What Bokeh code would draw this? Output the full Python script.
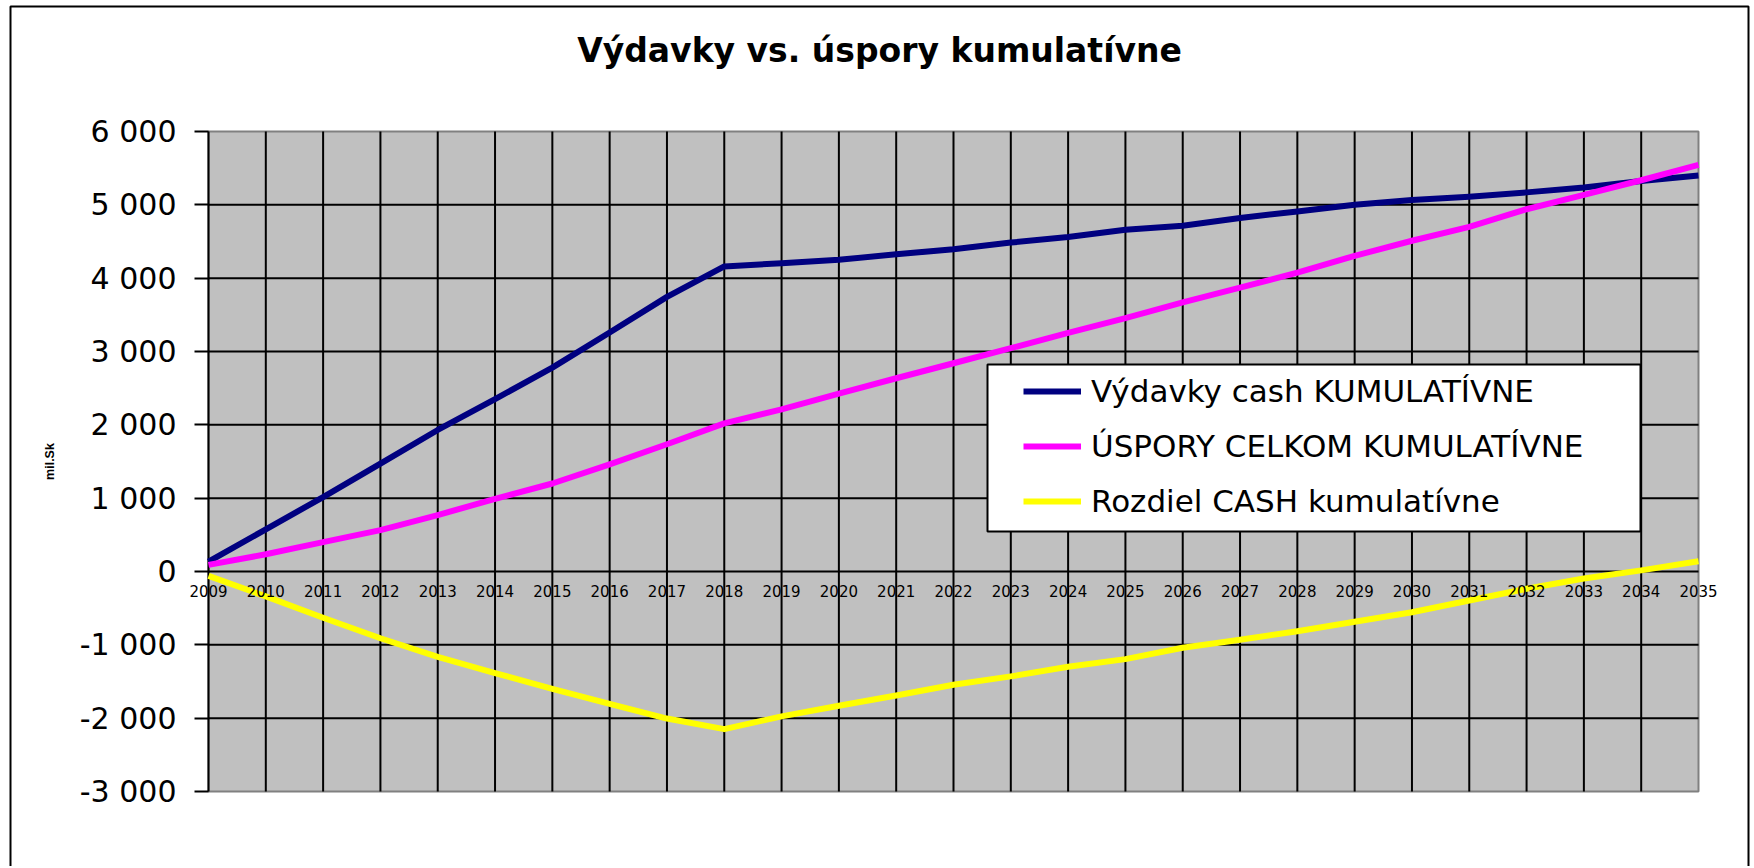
import math
from bokeh.plotting import figure
from bokeh.models import Range1d, FixedTicker, Legend, LegendItem, BoxAnnotation, Label
from bokeh.embed import file_html
from bokeh.resources import INLINE

# ---- data ----
years = [2009, 2010, 2011, 2012, 2013, 2014, 2015, 2016, 2017, 2018, 2019, 2020,
         2021, 2022, 2023, 2024, 2025, 2026, 2027, 2028, 2029, 2030, 2031, 2032,
         2033, 2034, 2035]
vydavky = [135, 575, 1015, 1470, 1930, 2350, 2780, 3260, 3745, 4160, 4205, 4250,
           4325, 4395, 4485, 4560, 4660, 4715, 4820, 4910, 5000, 5065, 5110, 5170,
           5235, 5325, 5400]
uspory = [90, 235, 400, 565, 770, 990, 1200, 1460, 1735, 2020, 2210, 2425,
          2635, 2840, 3045, 3255, 3455, 3670, 3870, 4075, 4305, 4510, 4700, 4940,
          5135, 5335, 5545]
rozdiel = [-60, -340, -630, -910, -1165, -1385, -1600, -1805, -2005, -2150, -1975, -1830,
           -1690, -1545, -1430, -1300, -1195, -1040, -930, -815, -685, -555, -395, -235,
           -95, 15, 140]
series_names = ["Výdavky cash KUMULATÍVNE", "ÚSPORY CELKOM KUMULATÍVNE", "Rozdiel CASH kumulatívne"]
y_ticks = [-3000, -2000, -1000, 0, 1000, 2000, 3000, 4000, 5000, 6000]
y_tick_labels = ["-3 000", "-2 000", "-1 000", "0", "1 000", "2 000", "3 000", "4 000", "5 000", "6 000"]
title_text = "Výdavky vs. úspory kumulatívne"
y_axis_title = "mil.Sk"

FONT = "DejaVu Sans"

# ---- layout (pixels) ----
W, H = 1750, 866
AREA_L, AREA_R, AREA_T, AREA_B = 208, 1698, 131, 791   # plot area in canvas pixels

# ranges chosen so that the plot area lands on the pixel box above; the frame fills the canvas
xs = (AREA_R - AREA_L) / (years[-1] - years[0])
ys = (AREA_B - AREA_T) / (y_ticks[-1] - y_ticks[0])
x0 = years[0] - AREA_L / xs
x1 = x0 + W / xs
y1 = y_ticks[-1] + AREA_T / ys
y0 = y1 - H / ys

p = figure(width=W, height=H, output_backend="svg", toolbar_location=None,
           x_range=Range1d(x0, x1), y_range=Range1d(y0, y1),
           min_border=0, min_border_left=0, min_border_right=0,
           min_border_top=0, min_border_bottom=0, title=None)

p.background_fill_color = "white"
p.border_fill_color = "white"
p.outline_line_color = None
p.xgrid.visible = False
p.ygrid.visible = False

# outer chart border
p.add_layout(BoxAnnotation(left=10, right=1748, top=H - 6, bottom=-20,
                           left_units="screen", right_units="screen",
                           top_units="screen", bottom_units="screen",
                           fill_alpha=0, line_color="black", line_alpha=1, line_width=2))

# plot area (grey)
p.add_layout(BoxAnnotation(left=years[0], right=years[-1], bottom=y_ticks[0], top=y_ticks[-1],
                           fill_color="#C0C0C0", fill_alpha=1,
                           line_color="#808080", line_alpha=1, line_width=2, level="image"))

# grid lines, limited to the plot area
v_years = years[:-1]
p.segment(x0=v_years, y0=[y_ticks[0]] * len(v_years), x1=v_years, y1=[y_ticks[-1]] * len(v_years),
          line_color="black", line_width=2, level="underlay")
h_vals = y_ticks[1:-1]
p.segment(x0=[years[0]] * len(h_vals), y0=h_vals, x1=[years[-1]] * len(h_vals), y1=h_vals,
          line_color="black", line_width=2, level="underlay")

# y axis, fixed at the first year
ya = p.yaxis[0]
ya.fixed_location = years[0]
ya.bounds = (y_ticks[0], y_ticks[-1])
ya.ticker = FixedTicker(ticks=y_ticks)
ya.major_label_overrides = {t: l for t, l in zip(y_ticks, y_tick_labels)}
ya.axis_line_color = None
ya.major_tick_out = 14
ya.major_tick_in = 0
ya.major_tick_line_color = "black"
ya.major_tick_line_width = 2
ya.minor_tick_line_color = None
ya.major_label_text_font = FONT
ya.major_label_text_font_size = "30px"
ya.major_label_text_color = "black"
ya.major_label_standoff = 18

# x axis at zero
xa = p.xaxis[0]
xa.fixed_location = 0
xa.bounds = (years[0], years[-1])
xa.ticker = FixedTicker(ticks=years)
xa.axis_line_color = None
xa.major_tick_line_color = None
xa.minor_tick_line_color = None
xa.major_tick_out = 0
xa.major_tick_in = 0
xa.major_label_text_font = FONT
xa.major_label_text_font_size = "15px"
xa.major_label_text_color = "black"
xa.major_label_standoff = 13

# lines
r1 = p.line(years, vydavky, line_color="#000080", line_width=6, line_join="round")
r2 = p.line(years, uspory, line_color="#FF00FF", line_width=6, line_join="round")
r3 = p.line(years, rozdiel, line_color="#FFFF00", line_width=6, line_join="round")

# legend box + legend
p.add_layout(BoxAnnotation(left=987, right=1640, bottom=H - 531, top=H - 364,
                           left_units="screen", right_units="screen",
                           top_units="screen", bottom_units="screen",
                           fill_color="white", fill_alpha=1,
                           line_color="black", line_alpha=1, line_width=2))

legend = Legend(items=[LegendItem(label=series_names[0], renderers=[r1]),
                       LegendItem(label=series_names[1], renderers=[r2]),
                       LegendItem(label=series_names[2], renderers=[r3])],
                location=(1023, H - 521), padding=0, margin=0,
                glyph_width=58, glyph_height=40, label_height=40,
                label_standoff=10, spacing=15,
                background_fill_alpha=0, border_line_color=None,
                label_text_font=FONT, label_text_font_size="31px",
                label_text_color="black")
p.add_layout(legend, "center")

# title
p.add_layout(Label(x=879, y=H - 50, x_units="screen", y_units="screen", text=title_text,
                   text_align="center", text_baseline="alphabetic",
                   text_font=FONT, text_font_style="bold", text_font_size="33px",
                   text_color="black"))

# y axis title
p.add_layout(Label(x=49, y=H - 461, x_units="screen", y_units="screen", text=y_axis_title,
                   angle=math.pi / 2, text_align="center", text_baseline="middle",
                   text_font="Liberation Sans", text_font_style="bold", text_font_size="12.5px",
                   text_color="black"))

open("out.html", "w").write(file_html(p, INLINE))
